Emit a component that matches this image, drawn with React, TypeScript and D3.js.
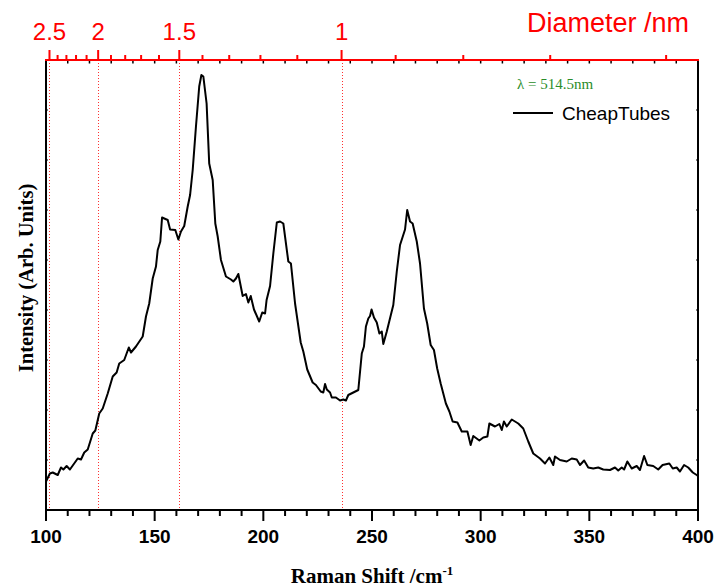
import React from "react";
import * as d3 from "d3";

const omega = [
  100.0, 101.8, 103.1, 105.4, 106.9, 108.0, 109.5, 111.0, 114.6, 116.1, 117.6, 119.2, 121.5, 122.7, 124.5, 126.1,
  128.4, 130.7, 132.5, 133.7, 136.0, 138.1, 139.1, 141.4, 144.5, 146.0, 147.5, 149.1, 150.6, 151.4, 152.6, 153.4,
  156.0, 157.1, 159.5, 160.9, 162.1, 163.6, 165.2, 166.3, 167.5, 169.0, 170.5, 171.5, 172.4, 173.9, 175.1, 176.7,
  177.9, 179.0, 180.5, 182.8, 185.1, 186.2, 187.4, 188.5, 190.5, 192.0, 193.1, 194.2, 195.7, 198.1, 199.5, 200.8,
  201.5, 203.1, 204.6, 206.2, 207.7, 209.2, 211.5, 212.7, 214.6, 217.2, 218.4, 220.2, 222.7, 224.2, 226.4, 227.6,
  228.4, 229.2, 230.7, 231.5, 233.4, 235.3, 236.8, 238.0, 239.1, 241.4, 243.7, 245.3, 246.3, 247.2, 248.3, 249.1,
  249.8, 250.9, 252.2, 253.4, 254.5, 255.2, 256.8, 259.8, 261.4, 262.9, 265.2, 266.2, 267.5, 268.7, 270.6, 272.1,
  273.9, 275.4, 277.0, 278.5, 280.0, 281.6, 284.0, 285.6, 287.1, 289.3, 291.3, 293.9, 295.4, 296.6, 299.4, 301.2,
  303.1, 304.0, 306.6, 308.6, 309.7, 310.7, 312.0, 314.3, 317.3, 319.6, 321.9, 324.2, 327.3, 329.6, 331.6, 333.4,
  334.2, 336.5, 339.6, 341.9, 344.2, 345.7, 347.6, 349.5, 351.8, 354.1, 356.4, 359.5, 361.8, 363.3, 364.9, 366.0,
  367.5, 369.5, 371.8, 373.3, 375.2, 376.7, 379.4, 381.7, 383.7, 386.8, 388.4, 390.2, 391.7, 393.6, 395.5, 397.6,
  399.4, 400.0,
];

const intensity = [
  0.57, 0.73, 0.75, 0.70, 0.85, 0.81, 0.88, 0.81, 1.03, 1.01, 1.15, 1.21, 1.53, 1.59, 1.93, 2.03,
  2.33, 2.67, 2.75, 2.93, 3.00, 3.25, 3.15, 3.27, 3.47, 3.87, 4.13, 4.63, 4.87, 5.20, 5.37, 5.85,
  5.80, 5.61, 5.60, 5.41, 5.57, 5.68, 6.07, 6.30, 6.80, 7.67, 8.47, 8.70, 8.67, 8.13, 6.93, 6.60,
  5.73, 5.47, 5.00, 4.67, 4.61, 4.57, 4.63, 4.72, 4.28, 4.32, 4.15, 4.28, 4.01, 3.77, 3.95, 3.93,
  4.20, 4.48, 5.13, 5.75, 5.77, 5.73, 4.97, 4.93, 4.13, 3.35, 3.17, 2.81, 2.55, 2.50, 2.37, 2.35,
  2.52, 2.41, 2.35, 2.25, 2.25, 2.19, 2.21, 2.19, 2.30, 2.35, 2.40, 3.13, 3.27, 3.67, 3.83, 3.88,
  4.01, 3.85, 3.75, 3.53, 3.57, 3.32, 3.57, 4.10, 4.77, 5.30, 5.61, 6.00, 5.77, 5.73, 5.37, 4.93,
  4.03, 3.73, 3.30, 3.20, 2.83, 2.53, 2.13, 1.97, 1.77, 1.75, 1.57, 1.57, 1.30, 1.48, 1.39, 1.45,
  1.47, 1.73, 1.67, 1.72, 1.60, 1.77, 1.67, 1.81, 1.73, 1.63, 1.37, 1.13, 1.03, 0.93, 1.05, 0.90,
  1.07, 1.00, 0.97, 1.03, 1.01, 0.90, 0.99, 0.85, 0.83, 0.85, 0.81, 0.80, 0.85, 0.79, 0.85, 0.81,
  0.97, 0.83, 0.88, 0.80, 1.08, 0.90, 0.88, 0.81, 0.90, 0.93, 0.83, 0.85, 0.77, 0.90, 0.85, 0.75,
  0.70, 0.68,
];

const xTicksMajor = [100, 150, 200, 250, 300, 350, 400];
const xTicksMinor = d3.range(100, 401, 10);
const yFrameTicks = [1, 2, 3, 4, 5, 6, 7, 8];
const diameterTicks = [2.5, 2.4, 2.3, 2.2, 2.1, 2.0, 1.9, 1.8, 1.7, 1.6, 1.5, 1.4, 1.3, 1.2, 1.1, 1.0, 0.9, 0.8, 0.7, 0.6];
const diameterLabels = [2.5, 2, 1.5, 1];
const seriesName = "CheapTubes";
const laserLabel = "λ = 514.5nm";

// Raman RBM relation: omega = 224 / d + 12
const dToOmega = (d: number) => 224 / d + 12;

const W = 717;
const H = 588;
const L = 46, R = 698, T = 60, B = 510;

const sans = "'Liberation Sans', Arial, Helvetica, sans-serif";
const serif = "'Liberation Serif', 'Times New Roman', Times, serif";

export default function App() {
  const x = d3.scaleLinear().domain([100, 400]).range([L, R]);
  const y = d3.scaleLinear().domain([0, 9]).range([B, T]);
  const pts = omega.map((o, i) => [o, intensity[i]] as [number, number]);
  const line = d3.line<[number, number]>().x((d) => x(d[0])).y((d) => y(d[1]));

  return (
    <svg width={W} height={H} style={{ position: "absolute", left: 0, top: 0, background: "#fff" }}>
      {/* dotted diameter guide lines */}
      {diameterLabels.map((d) => {
        const gx = Math.round(x(dToOmega(d))) + 0.5;
        return (
          <line key={"g" + d} x1={gx} x2={gx} y1={T} y2={B}
            stroke="#ff3030" strokeWidth={1} strokeDasharray="1,2" />
        );
      })}

      {/* frame left/right */}
      <line x1={L} x2={L} y1={T} y2={B + 1} stroke="#000" strokeWidth={2} />
      <line x1={R} x2={R} y1={T} y2={B + 1} stroke="#000" strokeWidth={2} />
      {yFrameTicks.map((v) => (
        <g key={"yt" + v}>
          <line x1={L} x2={L + 2} y1={y(v)} y2={y(v)} stroke="#000" strokeWidth={1} />
          <line x1={R} x2={R - 2} y1={y(v)} y2={y(v)} stroke="#000" strokeWidth={1} />
        </g>
      ))}

      {/* top mirror ticks */}
      {xTicksMinor.map((v) => (
        <line key={"tm" + v} x1={x(v)} x2={x(v)} y1={T} y2={T + 3.5} stroke="#000" strokeWidth={1.5} />
      ))}

      {/* bottom axis */}
      <line x1={L - 1} x2={R + 1} y1={B} y2={B} stroke="#000" strokeWidth={2} />
      {xTicksMinor.map((v) => (
        <line key={"bm" + v} x1={x(v)} x2={x(v)} y1={B} y2={B + (xTicksMajor.includes(v) ? 11 : 6)}
          stroke="#000" strokeWidth={2} />
      ))}
      {xTicksMajor.map((v) => (
        <text key={"bl" + v} x={x(v)} y={543} textAnchor="middle" fontFamily={sans} fontWeight="bold"
          fontSize={19} fill="#000">{v}</text>
      ))}
      <text x={372} y={583} textAnchor="middle" fontFamily={serif} fontWeight="bold" fontSize={21} fill="#000">
        Raman Shift /cm<tspan dy={-8} fontSize={13}>-1</tspan>
      </text>

      {/* y label */}
      <text transform="translate(33,278) rotate(-90)" textAnchor="middle" fontFamily={serif}
        fontWeight="bold" fontSize={20.5} fill="#000">Intensity (Arb. Units)</text>

      {/* top diameter axis */}
      <line x1={L - 1} x2={R + 1} y1={T} y2={T} stroke="#ff0000" strokeWidth={2} />
      {diameterTicks.map((d) => (
        <line key={"dt" + d} x1={x(dToOmega(d))} x2={x(dToOmega(d))} y1={T}
          y2={T - (diameterLabels.includes(d) ? 10 : 5)} stroke="#ff0000" strokeWidth={2} />
      ))}
      {diameterLabels.map((d) => (
        <text key={"dl" + d} x={x(dToOmega(d))} y={40} textAnchor="middle" fontFamily={sans} fontSize={24}
          fill="#ff0000">{d}</text>
      ))}
      <text x={689} y={32} textAnchor="end" fontFamily={sans} fontSize={27} fill="#ff0000">Diameter /nm</text>

      {/* data */}
      <path d={line(pts) || ""} fill="none" stroke="#000" strokeWidth={2} strokeLinejoin="round" />

      {/* legend */}
      <text x={517} y={89} fontFamily={serif} fontSize={15} fill="#2a8c2a">{laserLabel}</text>
      <line x1={513} x2={553} y1={113} y2={113} stroke="#000" strokeWidth={2} />
      <text x={562} y={120} fontFamily={sans} fontSize={19} fill="#000">{seriesName}</text>
    </svg>
  );
}
